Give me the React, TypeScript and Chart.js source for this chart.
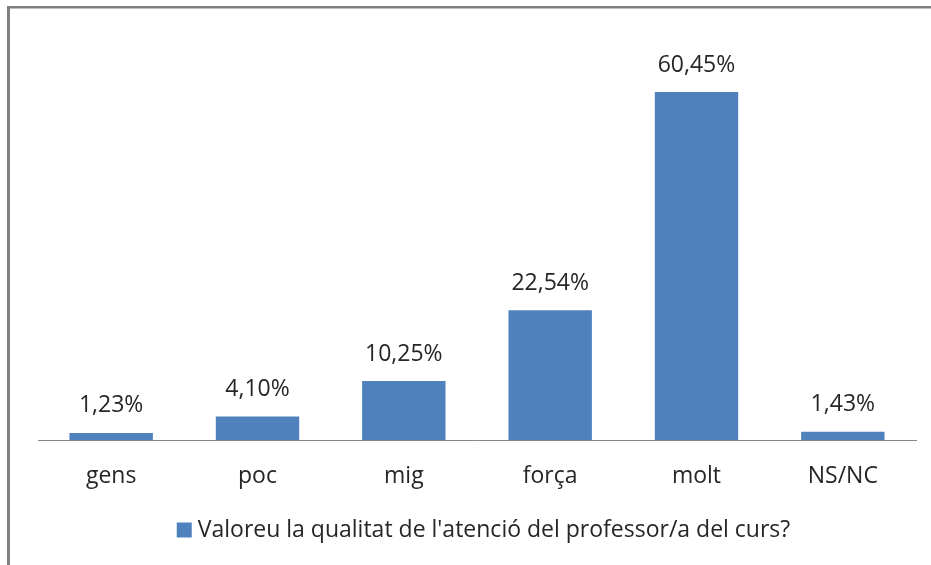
import React, { useEffect, useRef } from "react";
import { Chart, registerables } from "chart.js";

Chart.register(...registerables);

const categories = ["gens", "poc", "mig", "força", "molt", "NS/NC"];
const values = [1.23, 4.1, 10.25, 22.54, 60.45, 1.43];
const valueLabels = ["1,23%", "4,10%", "10,25%", "22,54%", "60,45%", "1,43%"];
const seriesName = "Valoreu la qualitat de l'atenció del professor/a del curs?";

const FONT = "'Open Sans', 'Noto Sans', sans-serif";
const BAR = "#4F81BD";
const TEXT = "#262626";
const FS = 23;

export default function App() {
  const ref = useRef<HTMLCanvasElement | null>(null);

  useEffect(() => {
    if (!ref.current) return;
    const framePlugin = {
      id: "frame",
      beforeDraw(chart: any) {
        const ctx = chart.ctx;
        ctx.save();
        ctx.fillStyle = "#ffffff";
        ctx.fillRect(0, 0, chart.width, chart.height);
        ctx.fillStyle = "#808080";
        ctx.fillRect(7, 6, chart.width - 7, 2.5);
        ctx.fillRect(7, 6, 3, chart.height - 6);
        ctx.restore();
      },
      afterDatasetsDraw(chart: any) {
        const ctx = chart.ctx;
        const meta = chart.getDatasetMeta(0);
        ctx.save();
        ctx.font = `${FS}px ${FONT}`;
        ctx.fillStyle = TEXT;
        ctx.textAlign = "center";
        ctx.textBaseline = "middle";
        meta.data.forEach((bar: any, i: number) => {
          ctx.fillText(valueLabels[i], bar.x, bar.y - 27);
        });
        // legend
        const tw = ctx.measureText(seriesName).width;
        const box = 15;
        const gap = 6;
        const total = box + gap + tw;
        const startX = (chart.width - total) / 2 + 18;
        const cy = 530;
        ctx.fillStyle = BAR;
        ctx.fillRect(startX, cy - box / 2, box, box);
        ctx.fillStyle = TEXT;
        ctx.textAlign = "left";
        ctx.fillText(seriesName, startX + box + gap, cy);
        ctx.restore();
      },
    };

    const chart = new Chart(ref.current, {
      type: "bar",
      data: {
        labels: categories,
        datasets: [
          {
            label: seriesName,
            data: values,
            backgroundColor: BAR,
            borderWidth: 0,
            categoryPercentage: 1,
            barPercentage: 0.57,
          },
        ],
      },
      options: {
        responsive: false,
        animation: false,
        layout: { padding: { left: 38, right: 15, top: 37, bottom: 55 } },
        plugins: {
          legend: { display: false },
          tooltip: { enabled: false },
        },
        scales: {
          x: {
            grid: { display: false, drawTicks: false },
            border: { display: true, color: "#868686", width: 1 },
            ticks: {
              color: TEXT,
              font: { family: FONT, size: FS },
              padding: 23,
            },
            afterFit: (scale: any) => {
              scale.height = 70;
            },
          },
          y: {
            display: false,
            min: 0,
            max: 70,
          },
        },
      },
      plugins: [framePlugin],
    });
    return () => chart.destroy();
  }, []);

  return (
    <div style={{ position: "fixed", left: 0, top: 0, width: 931, height: 565, background: "#fff" }}>
      <canvas ref={ref} width={931} height={565} style={{ display: "block" }} />
    </div>
  );
}
